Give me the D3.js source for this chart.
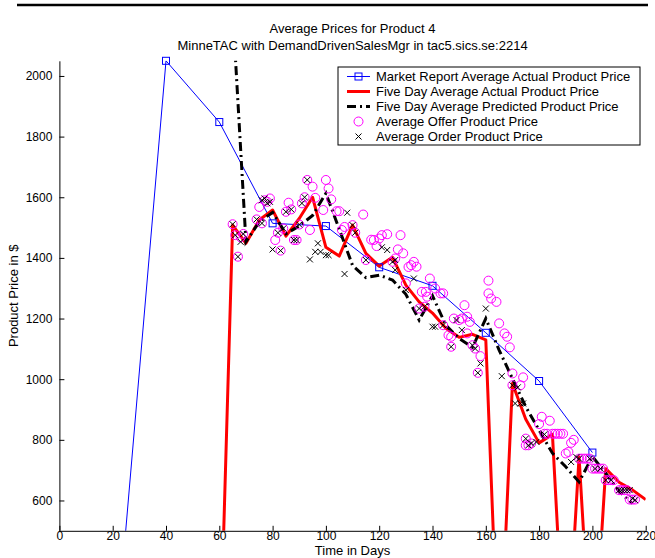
<!DOCTYPE html>
<html>
<head>
<meta charset="utf-8">
<script src="https://cdn.jsdelivr.net/npm/d3@7"></script>
<style>
  body { margin: 0; background: #fff; }
  svg { display: block; font-family: "Liberation Sans", Arial, Helvetica, sans-serif; }
</style>
</head>
<body>
<svg id="chart" width="655" height="558"></svg>
<script>
// market report, every 20 days
const marketDays = [0, 20, 40, 60, 80, 100, 120, 140, 160, 180, 200];
const marketPrice = [0, 0, 2050, 1848, 1514, 1505, 1369, 1308, 1153, 994, 758];

// five day average actual price
const actualDays = [60, 65, 70, 75, 80, 85, 90, 95, 100, 105, 110, 115, 120, 125, 130, 135, 140,
  145, 150, 155, 160, 165, 170, 175, 180, 185, 190, 195, 200, 205, 210, 215, 220];
const actualPrice = [0, 1508, 1448, 1525, 1558, 1472, 1530, 1600, 1435, 1406, 1508, 1415, 1373, 1402, 1310, 1255, 1218,
  1168, 1138, 1148, 1130, 0, 986, 868, 790, 818, 0, 744, 0, 705, 660, 635, 603];

// five day average predicted price
const predDays = [65, 70, 75, 80, 85, 90, 95, 100, 105, 110, 115, 120, 125, 130, 135, 140,
  145, 150, 155, 160, 165, 170, 175, 180, 185, 190, 195, 200, 205, 210, 215];
const predPrice = [2220, 1453, 1519, 1550, 1480, 1505, 1540, 1613, 1495, 1375, 1335, 1343, 1327, 1280, 1195, 1275,
  1178, 1134, 1105, 1200, 1096, 1002, 909, 832, 756, 711, 661, 745, 690, 630, 590];

// average offer price (circles)
const offerDays = [65, 66, 67, 68, 69, 74, 75, 76, 77, 78, 79, 81, 82, 83, 84, 85, 86, 87, 88, 89, 90, 91, 92, 93, 94, 95, 96,
  99, 100, 101, 102, 104, 105, 106, 107, 110, 111, 114, 115, 117, 118, 119, 120, 121, 123, 125, 126, 127, 128, 129,
  130, 131, 132, 133, 134, 135, 136, 137, 137.5, 138, 139, 141, 143, 144, 144, 146, 147, 147, 148, 150, 151, 152, 153,
  153, 154, 155, 156, 158, 157, 161, 161, 162, 164, 165, 167, 168, 169, 170, 170, 173, 174, 175, 175, 176, 177, 180,
  181, 184, 182, 183, 185, 186, 187, 188, 189, 190, 191, 192, 193, 195, 196, 197, 198, 199, 200, 201, 202, 203, 204,
  205, 206, 207, 208, 210, 211, 212, 213, 214, 215, 216];
const offerPrice = [1511, 1475, 1404, 1468, 1479, 1527, 1568, 1514, 1590, 1585, 1596, 1459, 1483, 1424, 1497, 1552, 1582,
  1560, 1459, 1459, 1510, 1580, 1600, 1657, 1492, 1635, 1598, 1558, 1657, 1629, 1593, 1554, 1554, 1492, 1502, 1508, 1483,
  1543, 1393, 1460, 1459, 1439, 1464, 1475, 1478, 1387, 1398, 1428, 1475, 1415, 1316, 1370, 1376, 1387, 1371, 1233, 1288,
  1239, 1288, 1272, 1332, 1299, 1283, 1283, 1178, 1145, 1107, 1140, 1200, 1195, 1200, 1244, 1206, 1151, 1189, 1112, 1101,
  1076, 1021, 1325, 1283, 1266, 1255, 1184, 1151, 1140, 1105, 1019, 980, 980, 1006, 804, 782, 782, 788, 852, 876, 863,
  820, 820, 820, 820, 820, 820, 820, 755, 760, 790, 800, 738, 738, 738, 738, 738, 705, 705, 705, 705, 705, 667, 667, 667,
  667, 634, 634, 634, 634, 603, 603, 603];

// average order price (crosses)
const orderDays = [65, 66, 67, 68, 69, 74, 76, 76, 77, 78, 79, 80, 82, 83, 84, 85, 87, 88, 89, 90, 91, 92, 93, 94, 96, 97,
  98, 100, 101, 107, 108, 110, 111, 115, 121, 123, 125, 126, 126, 130, 133, 135, 137, 140, 141, 144, 149, 151, 147,
  155, 156, 158, 157, 160, 166, 170, 172, 171, 173, 174, 175, 177, 176, 179, 182, 192, 194, 195, 199, 201, 203, 205,
  207, 210, 211, 212, 213, 214, 215, 216];
const orderPrice = [1511, 1475, 1404, 1453, 1479, 1527, 1514, 1590, 1596, 1580, 1585, 1428, 1483, 1424, 1497, 1552, 1560,
  1459, 1459, 1510, 1580, 1600, 1657, 1395, 1420, 1448, 1420, 1409, 1409, 1347, 1549, 1508, 1483, 1393, 1435, 1426, 1387,
  1393, 1360, 1294, 1332, 1233, 1239, 1173, 1173, 1178, 1195, 1162, 1107, 1112, 1101, 1052, 1021, 1233, 1010, 980, 973,
  920, 920, 920, 804, 788, 782, 793, 818, 727, 743, 738, 738, 705, 705, 667, 667, 634, 634, 634, 634, 634, 606, 601];

const xTicks = [0, 20, 40, 60, 80, 100, 120, 140, 160, 180, 200, 220];
const yTicks = [600, 800, 1000, 1200, 1400, 1600, 1800, 2000];

const legendLabels = [
  "Market Report Average Actual Product Price",
  "Five Day Average Actual Product Price",
  "Five Day Average Predicted Product Price",
  "Average Offer Product Price",
  "Average Order Product Price"
];

const svg = d3.select("#chart");
const x = d3.scaleLinear().domain([0, 220]).range([59.4, 645.7]);
const y = d3.scaleLinear().domain([500, 2050]).range([530.8, 60.8]);
const midX = (x(0) + x(220)) / 2;

svg.append("rect").attr("width", 655).attr("height", 558).attr("fill", "#fff");

// rule at the top of the page
svg.append("line").attr("x1", 17).attr("x2", 648).attr("y1", 5).attr("y2", 5)
  .attr("stroke", "#000").attr("stroke-width", 2.5);

svg.append("defs").append("clipPath").attr("id", "plotclip")
  .append("rect").attr("x", x(0)).attr("y", y(2050))
  .attr("width", x(220) - x(0)).attr("height", y(500) - y(2050));

const zip = (ds, vs) => ds.map((d, i) => [d, vs[i]]);
const line = d3.line().x(d => x(d[0])).y(d => y(d[1]));
const inside = d => d[0] >= 0 && d[0] <= 220 && d[1] >= 500 && d[1] <= 2050;

const plot = svg.append("g").attr("clip-path", "url(#plotclip)");

// market report
const market = zip(marketDays, marketPrice);
plot.append("path").attr("d", line(market))
  .attr("fill", "none").attr("stroke", "#0000ff").attr("stroke-width", 1);

// actual
plot.append("path").attr("d", line(zip(actualDays, actualPrice)))
  .attr("fill", "none").attr("stroke", "#ff0000").attr("stroke-width", 3)
  .attr("stroke-linejoin", "round");

// predicted
plot.append("path").attr("d", line(zip(predDays, predPrice)))
  .attr("fill", "none").attr("stroke", "#000").attr("stroke-width", 3)
  .attr("stroke-dasharray", "9,4,2,4");

const marks = svg.append("g");

marks.selectAll("rect.sq").data(market.filter(inside)).enter().append("rect")
  .attr("class", "sq")
  .attr("x", d => x(d[0]) - 3.5).attr("y", d => y(d[1]) - 3.5)
  .attr("width", 7).attr("height", 7)
  .attr("fill", "none").attr("stroke", "#0000ff").attr("stroke-width", 1);

marks.selectAll("circle.offer").data(zip(offerDays, offerPrice).filter(inside)).enter().append("circle")
  .attr("class", "offer")
  .attr("cx", d => x(d[0])).attr("cy", d => y(d[1])).attr("r", 4.5)
  .attr("fill", "none").attr("stroke", "#ff00ff").attr("stroke-width", 1);

const cross = (sel, s) => sel.attr("d", d => {
  const cx = x(d[0]), cy = y(d[1]);
  return `M${cx - s},${cy - s}L${cx + s},${cy + s}M${cx - s},${cy + s}L${cx + s},${cy - s}`;
});
cross(marks.selectAll("path.order").data(zip(orderDays, orderPrice).filter(inside)).enter().append("path")
  .attr("class", "order").attr("stroke", "#000").attr("stroke-width", 1), 3);

// axes, matlab style: ticks pointing in
const xAxis = svg.append("g").attr("transform", `translate(0,${y(500)})`)
  .call(d3.axisBottom(x).tickValues(xTicks).tickFormat(d3.format("d"))
    .tickSizeInner(-5).tickSizeOuter(0).tickPadding(1));
const yAxis = svg.append("g").attr("transform", `translate(${x(0)},0)`)
  .call(d3.axisLeft(y).tickValues(yTicks).tickFormat(d3.format("d"))
    .tickSizeInner(-5).tickSizeOuter(0).tickPadding(7));
[xAxis, yAxis].forEach(a => {
  a.select(".domain").attr("stroke", "#000");
  a.selectAll(".tick line").attr("stroke", "#000");
  a.selectAll(".tick text").attr("font-size", 12).attr("fill", "#000")
    .attr("font-family", "Liberation Sans, Arial, sans-serif");
});

svg.append("text").attr("x", midX).attr("y", 555)
  .attr("text-anchor", "middle").attr("font-size", 13).text("Time in Days");
svg.append("text").attr("transform", `translate(18,${(y(500) + y(2050)) / 2}) rotate(-90)`)
  .attr("text-anchor", "middle").attr("font-size", 13).text("Product Price in $");

svg.append("text").attr("x", midX).attr("y", 33)
  .attr("text-anchor", "middle").attr("font-size", 13).text("Average Prices for Product 4");
svg.append("text").attr("x", midX).attr("y", 49.5)
  .attr("text-anchor", "middle").attr("font-size", 13).text("MinneTAC with DemandDrivenSalesMgr in tac5.sics.se:2214");

// legend
const lg = svg.append("g").attr("transform", "translate(338,67)");
lg.append("rect").attr("width", 302).attr("height", 78)
  .attr("fill", "#fff").attr("stroke", "#000").attr("stroke-width", 1);
legendLabels.forEach((t, i) => {
  const cy = 9.5 + i * 15;
  const row = lg.append("g").attr("transform", `translate(0,${cy})`);
  if (i === 0) {
    row.append("line").attr("x1", 9).attr("x2", 32).attr("stroke", "#0000ff").attr("stroke-width", 1);
    row.append("rect").attr("x", 17).attr("y", -3.5).attr("width", 7).attr("height", 7)
      .attr("fill", "none").attr("stroke", "#0000ff");
  } else if (i === 1) {
    row.append("line").attr("x1", 9).attr("x2", 32).attr("stroke", "#ff0000").attr("stroke-width", 3);
  } else if (i === 2) {
    row.append("line").attr("x1", 9).attr("x2", 32).attr("stroke", "#000").attr("stroke-width", 3)
      .attr("stroke-dasharray", "9,4,2,4");
  } else if (i === 3) {
    row.append("circle").attr("cx", 20.5).attr("r", 4.5).attr("fill", "none").attr("stroke", "#ff00ff");
  } else {
    row.append("path").attr("d", "M17.5,-3L23.5,3M17.5,3L23.5,-3").attr("stroke", "#000");
  }
  row.append("text").attr("x", 38).attr("y", 4.5).attr("font-size", 13).text(t);
});
</script>
</body>
</html>
